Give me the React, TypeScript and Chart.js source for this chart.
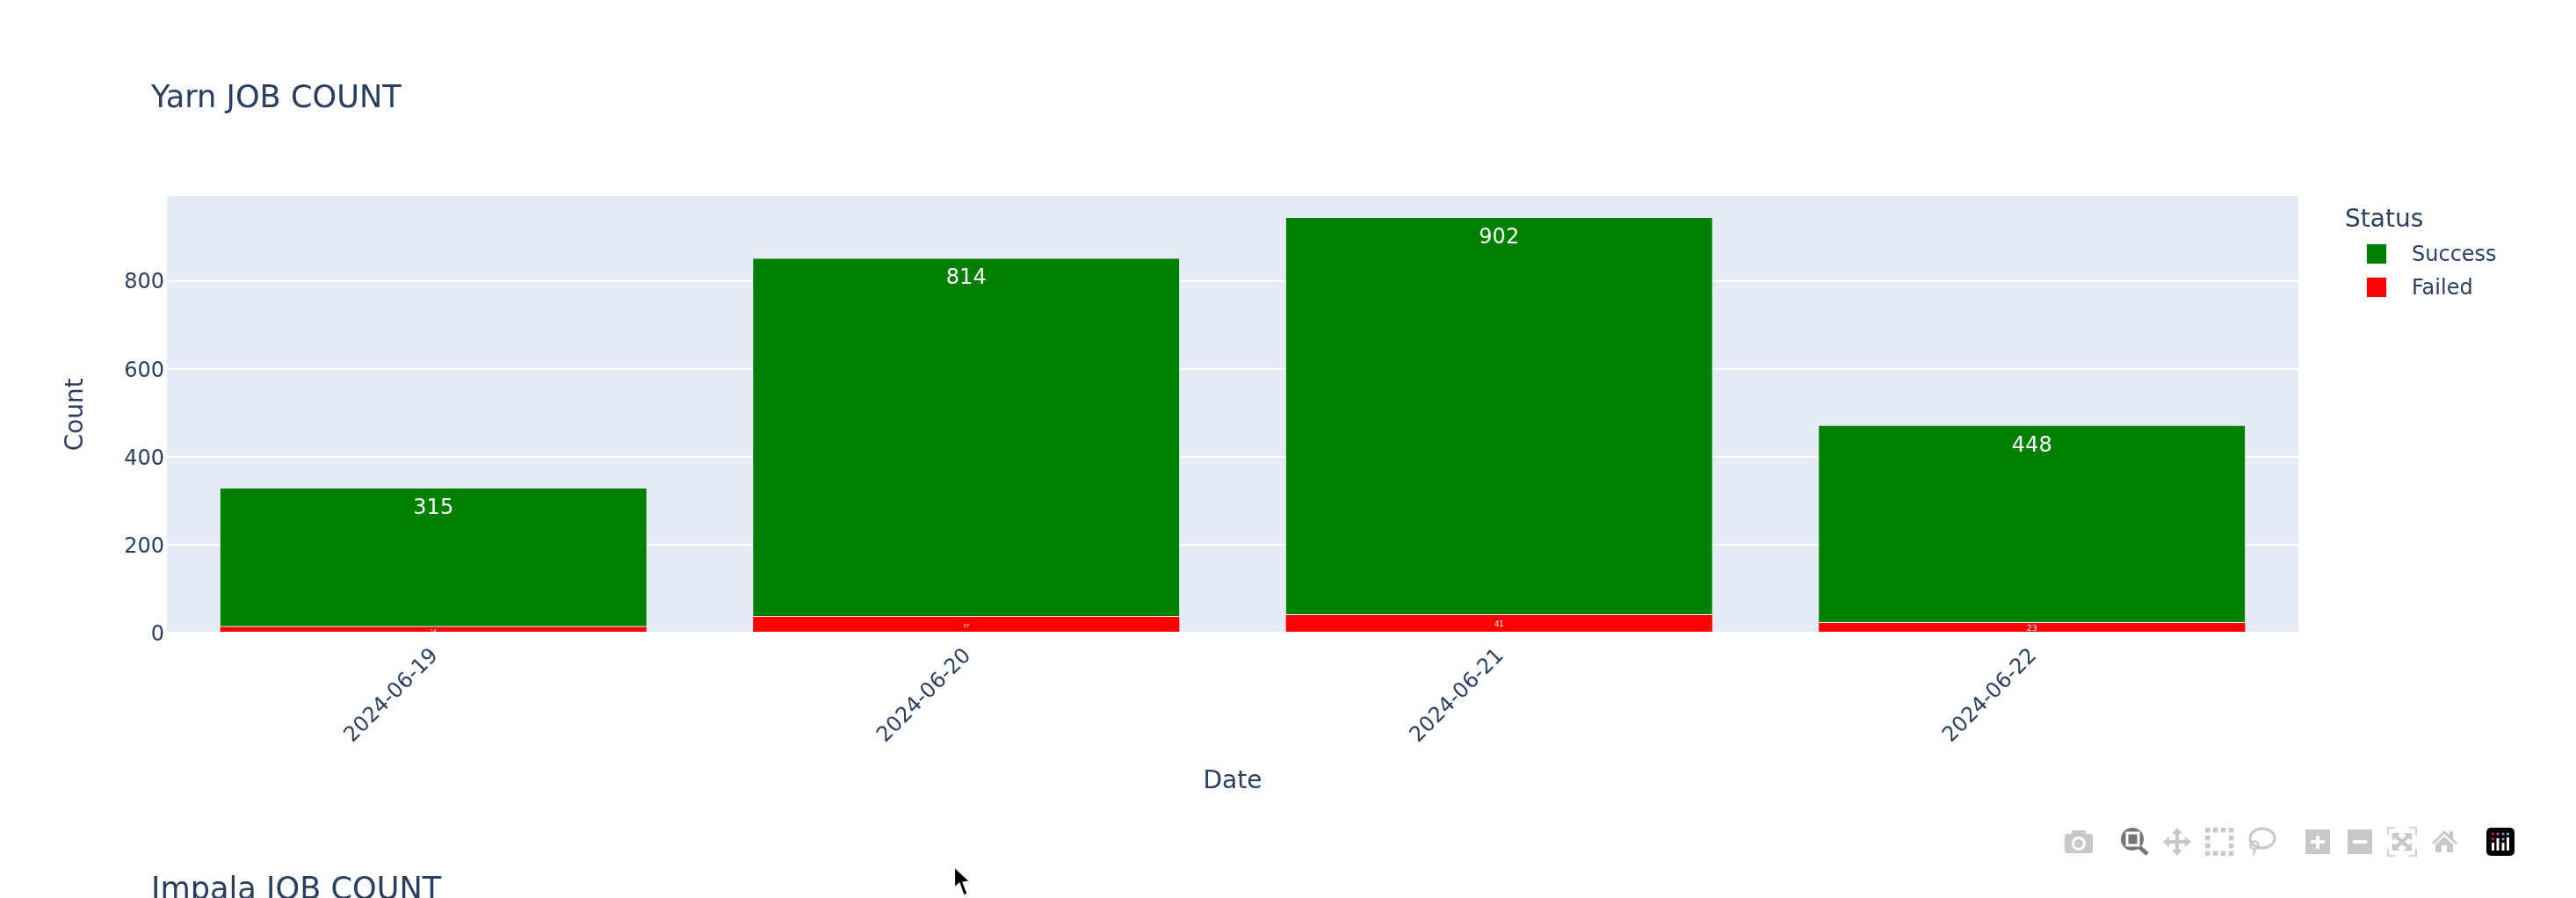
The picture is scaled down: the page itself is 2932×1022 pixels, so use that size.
import React, { useEffect, useRef } from "react";
import { Chart, registerables } from "chart.js";

Chart.register(...registerables);

const dates = ["2024-06-19", "2024-06-20", "2024-06-21", "2024-06-22"];
const failedCounts = [14, 37, 41, 23];
const successCounts = [315, 814, 902, 448];
const yTickValues = [0, 200, 400, 600, 800];
const yAxisMax = 993;

const INK = "#2a3f5f";
const PLOT_BG = "#E5ECF6";
const FONT = "'DejaVu Sans', Verdana, sans-serif";
const failedLabelFont = [5.5, 5.5, 8, 9.5];
const failedLabelInset = [5.5, 11, 11, 6.7];

function legendSwatch(color: string) {
  const c = document.createElement("canvas");
  c.width = 50;
  c.height = 28;
  const g = c.getContext("2d")!;
  g.fillStyle = color;
  g.fillRect(10, 0, 24, 24);
  g.strokeStyle = PLOT_BG;
  g.lineWidth = 1;
  g.strokeRect(10.5, 0.5, 23, 23);
  return c;
}

const plotBackground = {
  id: "plotBackground",
  beforeDraw(chart: any) {
    const { ctx, chartArea: a } = chart;
    ctx.save();
    ctx.fillStyle = PLOT_BG;
    ctx.fillRect(a.left, a.top, a.right - a.left, a.bottom - a.top);
    ctx.restore();
    // Canvas "middle" baseline sits a little higher than the reference's text.
    chart.scales.y.getLabelItems(a).forEach((it: any) => {
      if (!it.__shifted) {
        it.textOffset += 2.5;
        it.__shifted = true;
      }
    });
    chart.scales.x.getLabelItems(a).forEach((it: any) => {
      if (!it.__shifted) {
        it.options.translation[0] += 2;
        it.__shifted = true;
      }
    });
  },
};

const pinBoxes = {
  id: "pinBoxes",
  afterLayout(chart: any) {
    const t = chart.titleBlock;
    if (t) t.left = 172;
    const l = chart.legend;
    if (l) {
      l.left = 2669;
      l.right = 2669 + l.width;
      l.top = 237;
      l.bottom = 237 + l.height;
    }
  },
};

const extraText = {
  id: "extraText",
  afterDraw(chart: any) {
    const { ctx } = chart;
    ctx.save();
    ctx.textAlign = "center";
    ctx.textBaseline = "middle";
    ctx.fillStyle = "#ffffff";
    const failedMeta = chart.getDatasetMeta(0);
    const successMeta = chart.getDatasetMeta(1);
    successCounts.forEach((v, i) => {
      const el = successMeta.data[i];
      ctx.font = `24px ${FONT}`;
      ctx.fillText(String(v), el.x, el.y + 23);
    });
    failedCounts.forEach((v, i) => {
      const el = failedMeta.data[i];
      ctx.font = `${failedLabelFont[i]}px ${FONT}`;
      ctx.fillText(String(v), el.x, el.y + failedLabelInset[i]);
    });
    ctx.fillStyle = INK;
    ctx.textAlign = "left";
    ctx.textBaseline = "alphabetic";
    ctx.font = `35.2px ${FONT}`;
    ctx.fillText("Impala JOB COUNT", 172, 1022.5);
    ctx.restore();
  },
};

function Modebar() {
  const g = "#c8c8c8";
  const a = "#757575";
  const dots: React.ReactElement[] = [];
  for (let i = 0; i < 4; i++) {
    const p = 2510 + i * 8.9;
    dots.push(<rect key={"t" + i} x={p} y={942} width={5.5} height={5.5} fill={g} />);
    dots.push(<rect key={"b" + i} x={p} y={968.5} width={5.5} height={5.5} fill={g} />);
    if (i === 1 || i === 2) {
      dots.push(<rect key={"l" + i} x={2510} y={942 + i * 8.9} width={5.5} height={5.5} fill={g} />);
      dots.push(<rect key={"r" + i} x={2536.7} y={942 + i * 8.9} width={5.5} height={5.5} fill={g} />);
    }
  }
  return (
    <svg width={2932} height={1022} style={{ position: "absolute", left: 0, top: 0, pointerEvents: "none" }}>
      {/* camera */}
      <rect x={2350} y={949} width={32} height={22} rx={3} fill={g} />
      <rect x={2358} y={945} width={16} height={6} rx={2} fill={g} />
      <circle cx={2366} cy={960} r={8} fill="#fff" />
      <circle cx={2366} cy={960} r={5} fill={g} />
      {/* zoom */}
      <line x1={2435} y1={964} x2={2444} y2={972} stroke={a} strokeWidth={5} />
      <circle cx={2427} cy={955} r={13} fill={a} />
      <rect x={2421} y={948} width={13} height={14} fill={a} stroke="#fff" strokeWidth={3} />
      {/* pan */}
      <path
        d="M2478 942l6 7h-4v7h7v-4l7 6-7 6v-4h-7v7h4l-6 7-6-7h4v-7h-7v4l-7-6 7-6v4h7v-7h-4z"
        fill={g}
      />
      {/* select */}
      {dots}
      {/* lasso */}
      <ellipse cx={2575} cy={954} rx={14} ry={11} fill="none" stroke={g} strokeWidth={3} />
      <circle cx={2566} cy={962} r={4.5} fill="none" stroke={g} strokeWidth={2.5} />
      <line x1={2567} y1={966} x2={2565} y2={973} stroke={g} strokeWidth={2.5} />
      {/* zoom in */}
      <rect x={2624} y={944} width={28} height={28} fill={g} />
      <path d="M2636 951h4v5h6v4h-6v6h-4v-6h-6v-4h6z" fill="#fff" />
      {/* zoom out */}
      <rect x={2672} y={944} width={28} height={28} fill={g} />
      <rect x={2678} y={956} width={16} height={4} fill="#fff" />
      {/* autoscale */}
      <path
        d="M2718 950v-8h8M2742 942h8v8M2750 966v8h-8M2726 974h-8v-8"
        fill="none"
        stroke={g}
        strokeWidth={1.6}
      />
      <path
        d="M2723 948h9l-3 3 5 4 5-4-3-3h9v9l-3-3-5 4 5 4 3-3v9h-9l3-3-5-4-5 4 3 3h-9v-9l3 3 5-4-5-4-3 3z"
        fill={g}
      />
      {/* home */}
      <path
        d="M2768 959l14-14 6 5v-4h4v8l5 5-2 2-13-12-12 12zM2772 961l10-9 10 9v9h-7v-8h-6v8h-7z"
        fill={g}
      />
      {/* logo */}
      <rect x={2830} y={942} width={32} height={32} rx={5} fill="#000" />
      <circle cx={2837.5} cy={949} r={1.5} fill="#f5155b" />
      <circle cx={2843} cy={949} r={1.5} fill="#c1659e" />
      <circle cx={2849} cy={949} r={1.5} fill="#a08fd0" />
      <circle cx={2854.5} cy={949} r={1.5} fill="#62d5f0" />
      <circle cx={2837.5} cy={955} r={1.5} fill="#f5155b" />
      <circle cx={2849} cy={955} r={1.5} fill="#a08fd0" />
      <rect x={2836} y={959} width={3} height={9} fill="#fff" />
      <rect x={2841.5} y={954} width={3} height={14} fill="#fff" />
      <rect x={2847.5} y={959} width={3} height={9} fill="#fff" />
      <rect x={2853} y={953} width={3} height={15} fill="#fff" />
      {/* cursor */}
      <path
        d="M1086.5 987L1086.5 1010L1092 1005L1097 1019L1101 1017L1096 1004L1103.5 1003Z"
        fill="#000"
        stroke="#fff"
        strokeWidth={1.2}
      />
    </svg>
  );
}

export default function App() {
  const ref = useRef<HTMLCanvasElement>(null);

  useEffect(() => {
    if (!ref.current) return;
    const chart = new Chart(ref.current, {
      type: "bar",
      data: {
        labels: dates,
        datasets: [
          {
            label: "Failed",
            data: failedCounts,
            backgroundColor: "#ff0000",
            borderWidth: 0,
            barPercentage: 0.8,
            categoryPercentage: 1,
          },
          {
            label: "Success",
            data: successCounts,
            backgroundColor: "#008000",
            borderColor: "#F2F5FA",
            borderWidth: { top: 0, left: 0, right: 0, bottom: 1 },
            borderSkipped: false,
            barPercentage: 0.8,
            categoryPercentage: 1,
          },
        ],
      },
      options: {
        responsive: false,
        devicePixelRatio: 1,
        animation: false,
        layout: { padding: { left: 0, right: 316, top: 0, bottom: 0 } },
        plugins: {
          tooltip: { enabled: false },
          title: {
            display: true,
            text: "Yarn JOB COUNT",
            align: "start",
            color: INK,
            font: { family: FONT, size: 35.2, weight: "normal", lineHeight: 1.2 },
            padding: { top: 92, bottom: 88.76 },
          },
          legend: {
            display: true,
            position: "chartArea",
            align: "start",
            title: {
              display: true,
              text: "Status",
              color: INK,
              position: "start",
              font: { family: FONT, size: 28, weight: "normal", lineHeight: 1 },
              padding: 0,
            },
            labels: {
              usePointStyle: true,
              pointStyleWidth: 50,
              boxHeight: 24,
              padding: 14,
              color: INK,
              font: { family: FONT, size: 24 },
              generateLabels: () => [
                {
                  text: "Success",
                  pointStyle: legendSwatch("#008000"),
                  fontColor: INK,
                  datasetIndex: 1,
                  lineWidth: 0,
                },
                {
                  text: "Failed",
                  pointStyle: legendSwatch("#ff0000"),
                  fontColor: INK,
                  datasetIndex: 0,
                  lineWidth: 0,
                },
              ],
            },
          },
        },
        scales: {
          x: {
            stacked: true,
            afterFit: (s: any) => {
              s.height = 301.5;
            },
            grid: { display: false, drawTicks: false },
            border: { display: false },
            ticks: {
              autoSkip: false,
              minRotation: 45,
              maxRotation: 45,
              padding: 12,
              color: INK,
              font: { family: FONT, size: 24 },
            },
            title: {
              display: true,
              text: "Date",
              color: INK,
              font: { family: FONT, size: 28, lineHeight: 1.2 },
              padding: { top: 0, bottom: 115 },
            },
          },
          y: {
            stacked: true,
            min: 0,
            max: yAxisMax,
            afterBuildTicks: (s: any) => {
              s.ticks = yTickValues.map((value) => ({ value }));
            },
            afterFit: (s: any) => {
              s.width = 190;
            },
            grid: {
              color: "#ffffff",
              lineWidth: (c: any) => (c.tick && c.tick.value === 0 ? 3 : 2),
              drawTicks: false,
            },
            border: { display: false },
            ticks: {
              padding: 3,
              color: INK,
              font: { family: FONT, size: 24 },
            },
            title: {
              display: true,
              text: "Count",
              color: INK,
              font: { family: FONT, size: 28, lineHeight: 1.2 },
              padding: { top: 70, bottom: 0 },
            },
          },
        },
      },
      plugins: [plotBackground, pinBoxes, extraText],
    } as any);
    return () => chart.destroy();
  }, []);

  return (
    <div style={{ position: "absolute", left: 0, top: 0, width: 2932, height: 1022, background: "#fff", overflow: "hidden" }}>
      <canvas ref={ref} width={2932} height={1022} style={{ position: "absolute", left: 0, top: 0, display: "block" }} />
      <Modebar />
    </div>
  );
}
